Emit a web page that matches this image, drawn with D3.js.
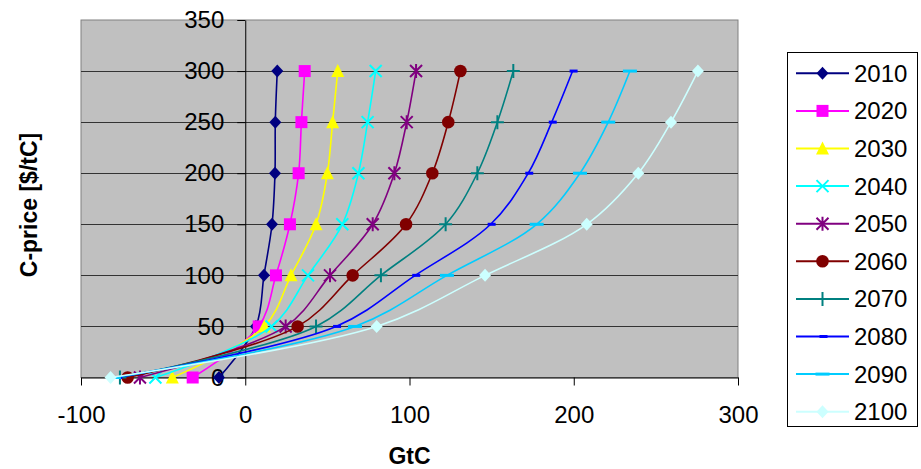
<!DOCTYPE html>
<html>
<head>
<meta charset="utf-8">
<script src="https://cdn.jsdelivr.net/npm/d3@7"></script>
<style>
	body { margin: 0; background: #fff; }
	svg text { font-family: "Liberation Sans", Arial, sans-serif; fill: #000; }
</style>
</head>
<body>
<svg id="chart" width="921" height="469"></svg>
<script>
(function(){
	'use strict';

	// C-price levels ($/tC), shared by every series
	var cPrice = [0, 50, 100, 150, 200, 250, 300];

	// GtC at each price level, one array per year
	var gtc2010 = [-16, 6.5, 11.4, 16.3, 18.1, 18.3, 19.5];
	var gtc2020 = [-32, 8.2, 18.7, 27.2, 32.5, 34.2, 36.2];
	var gtc2030 = [-44.4, 11.6, 27.9, 43.1, 50, 53.2, 56.3];
	var gtc2040 = [-54.7, 16, 38.2, 59.1, 68.9, 74.5, 79.4];
	var gtc2050 = [-64.1, 24.6, 51.6, 77.6, 90.8, 98.3, 104];
	var gtc2060 = [-71.6, 31.9, 65.4, 97.9, 113.9, 123.6, 131];
	var gtc2070 = [-76.3, 43.1, 82.6, 122, 141.3, 153.5, 163.2];
	var gtc2080 = [-78, 55.3, 103.5, 149.4, 172.3, 186.6, 199.3];
	var gtc2090 = [-80, 66.8, 122.8, 177.4, 203.8, 221, 234.2];
	var gtc2100 = [-82, 80, 146, 207.9, 239.3, 259.2, 275.6];

	var years = ["2010", "2020", "2030", "2040", "2050", "2060", "2070", "2080", "2090", "2100"];
	var xTicks = [-100, 0, 100, 200, 300];
	var yTicks = [0, 50, 100, 150, 200, 250, 300, 350];

	var seriesValues = [gtc2010, gtc2020, gtc2030, gtc2040, gtc2050, gtc2060, gtc2070, gtc2080, gtc2090, gtc2100];
	var colors = ["#000080", "#FF00FF", "#FFFF00", "#00FFFF", "#800080", "#800000", "#008080", "#0000FF", "#00CCFF", "#CCFFFF"];
	var markers = ["diamond", "square", "triangle", "x", "star", "circle", "plus", "dashS", "dashL", "diamond"];

	var series = years.map(function(y, i){
		return {
			year: y,
			color: colors[i],
			marker: markers[i],
			points: cPrice.map(function(p, j){ return {x: seriesValues[i][j], y: p}; })
		};
	});

	var svg = d3.select("#chart");
	var plot = {left: 81, right: 738, top: 20, bottom: 377.5};

	var x = d3.scaleLinear().domain([-100, 300]).range([plot.left, plot.right]);
	var y = d3.scaleLinear().domain([0, 350]).range([plot.bottom, plot.top]);

	// plot background
	svg.append("rect")
		.attr("x", plot.left).attr("y", plot.top)
		.attr("width", plot.right - plot.left).attr("height", plot.bottom - plot.top)
		.attr("fill", "#C0C0C0").attr("stroke", "#808080").attr("stroke-width", 1);

	// horizontal gridlines
	svg.append("g").selectAll("line")
		.data(yTicks.filter(function(d){ return d > 0 && d < 350; }))
		.enter().append("line")
		.attr("x1", plot.left).attr("x2", plot.right)
		.attr("y1", function(d){ return Math.round(y(d)) + 0.5; })
		.attr("y2", function(d){ return Math.round(y(d)) + 0.5; })
		.attr("stroke", "#333").attr("stroke-width", 1);

	var plain = function(d){ return String(d); };

	// y axis sits on x = 0
	var yAxis = svg.append("g")
		.attr("transform", "translate(" + x(0) + ",0)")
		.call(d3.axisLeft(y).tickValues(yTicks).tickFormat(plain).tickSize(8).tickSizeOuter(0).tickPadding(13));

	// x axis sits on y = 0
	var xAxis = svg.append("g")
		.attr("transform", "translate(0," + y(0) + ")")
		.call(d3.axisBottom(x).tickValues(xTicks).tickFormat(plain).tickSize(8).tickSizeOuter(0).tickPadding(20.5));

	[yAxis, xAxis].forEach(function(a){
		a.selectAll("text").style("font-size", "24px").attr("fill", "#000");
		a.selectAll("line, path").attr("stroke", "#000");
	});

	// axis titles
	svg.append("text")
		.attr("x", (plot.left + plot.right) / 2).attr("y", 456)
		.attr("dy", "0.35em")
		.attr("text-anchor", "middle")
		.style("font-size", "23px").style("font-weight", "bold")
		.text("GtC");

	svg.append("text")
		.attr("transform", "translate(37,205) rotate(-90)")
		.attr("text-anchor", "middle")
		.style("font-size", "23px").style("font-weight", "bold")
		.text("C-price [$/tC]");

	function drawMarker(g, type, color){
		switch(type){
			case "diamond":
				g.append("path").attr("d", "M0,-6.5L6,0L0,6.5L-6,0Z").attr("fill", color);
				break;
			case "square":
				g.append("rect").attr("x", -6).attr("y", -6).attr("width", 12).attr("height", 12).attr("fill", color);
				break;
			case "triangle":
				g.append("path").attr("d", "M0,-7L6.5,6L-6.5,6Z").attr("fill", color);
				break;
			case "circle":
				g.append("circle").attr("r", 6.3).attr("fill", color);
				break;
			case "x":
				g.append("path").attr("d", "M-6,-6L6,6M-6,6L6,-6")
					.attr("stroke", color).attr("stroke-width", 2).attr("fill", "none");
				break;
			case "star":
				g.append("path").attr("d", "M-6,-6L6,6M-6,6L6,-6M0,-7L0,7")
					.attr("stroke", color).attr("stroke-width", 2).attr("fill", "none");
				break;
			case "plus":
				g.append("path").attr("d", "M-6.5,0L6.5,0M0,-7L0,7")
					.attr("stroke", color).attr("stroke-width", 2).attr("fill", "none");
				break;
			case "dashS":
				g.append("rect").attr("x", -3).attr("y", -1.5).attr("width", 8).attr("height", 3).attr("fill", color);
				break;
			case "dashL":
				g.append("rect").attr("x", -7).attr("y", -1.5).attr("width", 14).attr("height", 3).attr("fill", color);
				break;
		}
	}

	var line = d3.line()
		.x(function(d){ return x(d.x); })
		.y(function(d){ return y(d.y); })
		.curve(d3.curveCatmullRom.alpha(0.5));

	var serie = svg.append("g").selectAll(".serie")
		.data(series)
		.enter().append("g")
		.attr("class", "serie");

	serie.append("path")
		.attr("d", function(d){ return line(d.points); })
		.attr("fill", "none")
		.attr("stroke", function(d){ return d.color; })
		.attr("stroke-width", 1.6);

	serie.each(function(s){
		var gs = d3.select(this);
		s.points.forEach(function(p){
			var m = gs.append("g").attr("transform", "translate(" + x(p.x) + "," + y(p.y) + ")");
			drawMarker(m, s.marker, s.color);
		});
	});

	// legend
	var legend = svg.append("g");
	legend.append("rect")
		.attr("x", 787.5).attr("y", 52.5).attr("width", 130).attr("height", 374)
		.attr("fill", "#fff").attr("stroke", "#000").attr("stroke-width", 1);

	var leg = legend.selectAll(".leg")
		.data(series)
		.enter().append("g")
		.attr("transform", function(d, i){ return "translate(0," + (73.3 + i * 37.6) + ")"; });

	leg.append("line")
		.attr("x1", 796).attr("x2", 849)
		.attr("stroke", function(d){ return d.color; })
		.attr("stroke-width", 2);

	leg.each(function(s){
		var m = d3.select(this).append("g").attr("transform", "translate(822.5,0)");
		drawMarker(m, s.marker, s.color);
	});

	leg.append("text")
		.attr("x", 854).attr("dy", "0.35em")
		.style("font-size", "24px")
		.text(function(d){ return d.year; });
})();
</script>
</body>
</html>
